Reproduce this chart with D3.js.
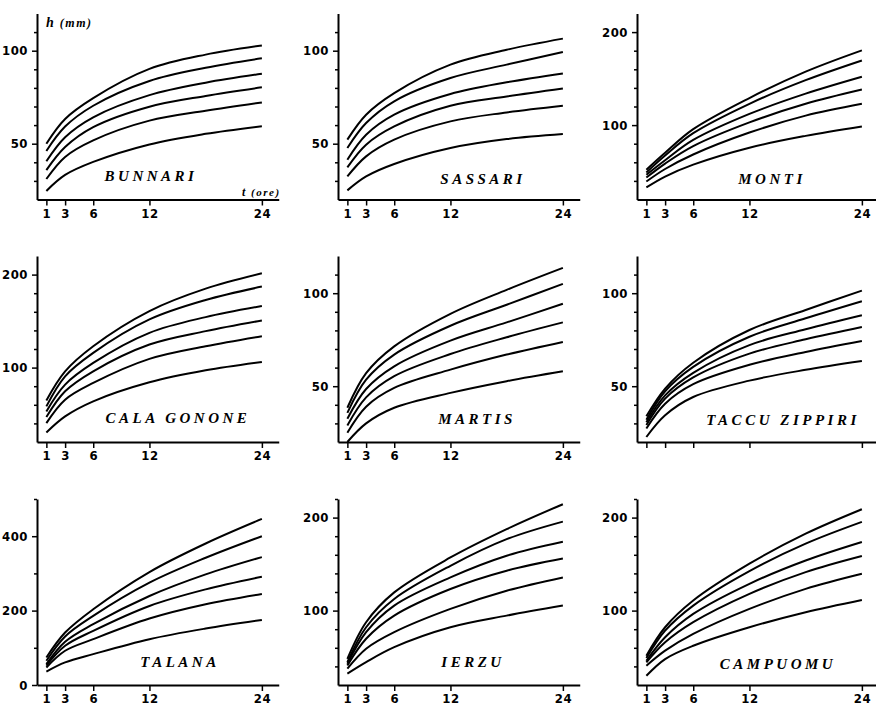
<!DOCTYPE html>
<html>
<head>
<meta charset="utf-8">
<script src="https://cdn.jsdelivr.net/npm/d3@7"></script>
<style>
body { margin: 0; background: #fff; }
.axis path, .axis line { stroke: #000; }
.axis .domain { stroke-width: 2; }
.axis line { stroke-width: 1.5; }
.axis text { font-family: "Liberation Sans Narrow", "DejaVu Sans Condensed", sans-serif; font-weight: bold; font-size: 13px; fill: #000; letter-spacing: 0.5px; }
.curve { fill: none; stroke: #000; stroke-width: 2; }
.station { font-family: "Liberation Serif", "DejaVu Serif", serif; font-weight: bold; font-style: italic; font-size: 15px; letter-spacing: 3.5px; fill: #000; }
.unit { font-family: "Liberation Serif", "DejaVu Serif", serif; font-weight: bold; font-style: italic; fill: #000; letter-spacing: 1.5px; }
</style>
</head>
<body>
<script>
//all in one anonymous function so nothing leaks to global scope
(function (){

    //durations (hours) the curves were read at
    var durations = [1, 3, 6, 12, 18, 24];
    var xTicks = [1, 3, 6, 12, 24];

    var stations = ["BUNNARI", "SASSARI", "MONTI", "CALA GONONE", "MARTIS", "TACCU ZIPPIRI", "TALANA", "IERZU", "CAMPUOMU"];

    //h (mm) for each of the six curves, top curve first
    var hBunnari = [
        [50.0, 63.3, 74.5, 90.2, 97.9, 102.8],
        [46.1, 59.2, 70.4, 83.7, 90.8, 95.9],
        [40.6, 53.5, 64.2, 76.1, 82.8, 87.6],
        [35.8, 48.2, 58.9, 69.9, 75.7, 80.3],
        [31.0, 42.9, 51.8, 62.4, 67.7, 72.2],
        [24.6, 33.2, 40.2, 49.6, 55.3, 59.4]
    ];
    var hSassari = [
        [52.2, 65.6, 77.2, 92.5, 100.5, 106.5],
        [47.7, 61.1, 72.8, 85.3, 92.5, 99.3],
        [41.4, 54.8, 65.6, 76.7, 83.0, 87.8],
        [37.3, 49.5, 59.3, 70.4, 75.4, 79.7],
        [32.4, 43.2, 52.2, 62.0, 66.8, 70.4],
        [24.9, 32.4, 39.1, 47.7, 52.5, 55.2]
    ];
    var hMonti = [
        [52.0, 70.2, 95.6, 129.1, 157.5, 180.4],
        [49.1, 67.3, 91.3, 122.9, 148.3, 169.5],
        [46.6, 62.2, 84.0, 112.0, 133.8, 152.0],
        [43.6, 58.6, 77.4, 102.9, 122.9, 138.2],
        [39.3, 52.8, 68.4, 92.0, 110.2, 122.9],
        [33.0, 44.7, 57.5, 75.7, 88.4, 98.6]
    ];
    var hCalaGonone = [
        [64.7, 96.0, 123.0, 160.8, 184.9, 201.4],
        [58.3, 90.6, 115.8, 151.8, 172.7, 187.1],
        [52.9, 81.7, 105.0, 137.4, 154.3, 166.2],
        [46.8, 74.5, 96.0, 124.8, 139.2, 150.7],
        [40.3, 65.5, 83.5, 109.4, 123.0, 133.8],
        [30.2, 47.5, 63.7, 84.2, 97.1, 106.1]
    ];
    var hMartis = [
        [38.4, 57.0, 71.4, 88.9, 101.8, 113.6],
        [35.7, 53.5, 67.0, 82.5, 93.8, 105.0],
        [32.5, 48.5, 60.7, 74.5, 84.3, 94.3],
        [28.9, 44.0, 55.4, 67.3, 76.3, 84.3],
        [25.0, 39.0, 49.1, 58.9, 67.0, 73.8],
        [20.0, 30.0, 38.4, 46.4, 52.7, 58.0]
    ];
    var hTaccuZippiri = [
        [33.8, 48.7, 62.6, 80.2, 91.0, 101.4],
        [32.0, 47.3, 60.4, 76.6, 86.5, 95.7],
        [30.6, 45.1, 57.2, 72.1, 80.6, 88.1],
        [29.1, 43.3, 54.7, 67.5, 75.2, 81.8],
        [27.3, 40.6, 51.1, 61.5, 68.4, 74.3],
        [22.7, 34.4, 44.2, 53.0, 58.8, 63.5]
    ];
    var hTalana = [
        [74, 141, 203.6, 303.6, 380.4, 446.4],
        [65, 130.4, 185.7, 275, 342, 400],
        [56, 116, 163.4, 239.3, 297.3, 343.8],
        [52, 105.4, 145.5, 212.5, 257.1, 291.1],
        [47, 92, 123.2, 178.6, 217, 244.6],
        [36, 60.7, 83, 123.2, 151.8, 175]
    ];
    var hIerzu = [
        [48.2, 87.5, 119.6, 157.1, 187.6, 214.4],
        [44.6, 82.1, 112.5, 148.2, 176.8, 195.7],
        [42.9, 76.8, 105.4, 135.7, 159.0, 174.0],
        [41.0, 69.7, 94.6, 123.2, 142.9, 156.0],
        [37.5, 59.0, 76.8, 101.8, 121.4, 135.7],
        [32.2, 44.6, 60.7, 82.1, 94.6, 105.4]
    ];
    var hCampuomu = [
        [51.5, 82.1, 110.8, 150.4, 182.7, 209.0],
        [49.0, 78.4, 105.4, 142.5, 172.0, 195.4],
        [46.1, 71.3, 96.4, 128.8, 153.9, 173.8],
        [44.3, 65.9, 87.5, 118.0, 141.4, 158.7],
        [40.7, 56.9, 74.9, 101.8, 123.4, 139.6],
        [29.9, 47.9, 62.2, 82.1, 98.3, 111.5]
    ];
    var curveSets = [hBunnari, hSassari, hMonti, hCalaGonone, hMartis, hTaccuZippiri, hTalana, hIerzu, hCampuomu];

    //y axes
    var yDomains = [[20, 120], [20, 120], [20, 220], [20, 220], [20, 120], [20, 120], [0, 500], [20, 220], [20, 220]];
    var yMajorTicks = [[50, 100], [50, 100], [100, 200], [100, 200], [50, 100], [50, 100], [0, 200, 400], [100, 200], [100, 200]];
    var yMinorTicks = [
        [30, 40, 60, 70, 80, 90, 110],
        [30, 40, 60, 70, 80, 90, 110],
        [40, 60, 80, 120, 140, 160, 180],
        [40, 60, 80, 120, 140, 160, 180],
        [30, 40, 60, 70, 80, 90, 110],
        [30, 40, 60, 70, 80, 90, 110],
        [100, 300, 500],
        [40, 60, 80, 120, 140, 160, 180, 220],
        [40, 60, 80, 120, 140, 160, 180, 220]
    ];
    //TACCU ZIPPIRI has its hour labels cut off
    var xLabelsShown = [true, true, true, true, true, false, true, true, true];

    //page layout
    var width = 876, height = 707;
    var colX = [37, 338, 637],
        rowY = [199.5, 442, 685];
    var plotHeight = 186, pxPerHour = 9.37, xMax = 25.8;
    //station name anchor, relative to each panel's origin
    var namePos = [[114, -19], [145, -16], [135, -16], [141, -19], [139, -18], [146, -17], [143, -18], [135, -18], [141, -16]];

    var svg = d3.select("body")
        .append("svg")
        .attr("width", width)
        .attr("height", height);

    svg.append("rect")
        .attr("width", width)
        .attr("height", height)
        .attr("fill", "#fff");

    for (var i = 0; i < stations.length; i++){
        setPanel(i);
    }

    setUnits();

    function setPanel(i){
        var x0 = colX[i % 3],
            yBot = rowY[Math.floor(i / 3)];

        var x = d3.scaleLinear()
            .domain([0, xMax])
            .range([x0, x0 + xMax * pxPerHour]);

        var y = d3.scaleLinear()
            .domain(yDomains[i])
            .range([yBot, yBot - plotHeight]);

        var panel = svg.append("g").attr("class", "panel");

        //small ticks without labels
        panel.append("g")
            .attr("class", "axis minor")
            .attr("transform", "translate(" + x0 + ",0)")
            .call(d3.axisLeft(y).tickValues(yMinorTicks[i]).tickSize(3).tickFormat(""))
            .select(".domain").remove();

        //labelled y ticks and the axis line
        panel.append("g")
            .attr("class", "axis")
            .attr("transform", "translate(" + x0 + ",0)")
            .call(d3.axisLeft(y)
                .tickValues(yMajorTicks[i])
                .tickSize(5)
                .tickPadding(4)
                .tickSizeOuter(0));

        //hour axis
        panel.append("g")
            .attr("class", "axis")
            .attr("transform", "translate(0," + yBot + ")")
            .call(d3.axisBottom(x)
                .tickValues(xTicks)
                .tickSize(6)
                .tickPadding(3)
                .tickSizeOuter(0)
                .tickFormat(xLabelsShown[i] ? d3.format("d") : ""));

        var line = d3.line()
            .x(function(d, j){ return x(durations[j]); })
            .y(function(d){ return y(d); })
            .curve(d3.curveCatmullRom.alpha(0.5));

        panel.selectAll(".curve")
            .data(curveSets[i])
            .enter()
            .append("path")
            .attr("class", "curve")
            .attr("d", line);

        panel.append("text")
            .attr("class", "station")
            .attr("x", x0 + namePos[i][0])
            .attr("y", yBot + namePos[i][1])
            .attr("text-anchor", "middle")
            .text(stations[i]);
    }

    //axis titles, only on the first panel
    function setUnits(){
        var hLabel = svg.append("text")
            .attr("class", "unit")
            .attr("x", 46)
            .attr("y", 27);
        hLabel.append("tspan").style("font-size", "14px").text("h");
        hLabel.append("tspan").style("font-size", "12px").text(" (mm)");

        var tLabel = svg.append("text")
            .attr("class", "unit")
            .attr("x", 242)
            .attr("y", 196);
        tLabel.append("tspan").style("font-size", "12px").text("t");
        tLabel.append("tspan").style("font-size", "11px").text(" (ore)");
    }

})();
</script>
</body>
</html>
